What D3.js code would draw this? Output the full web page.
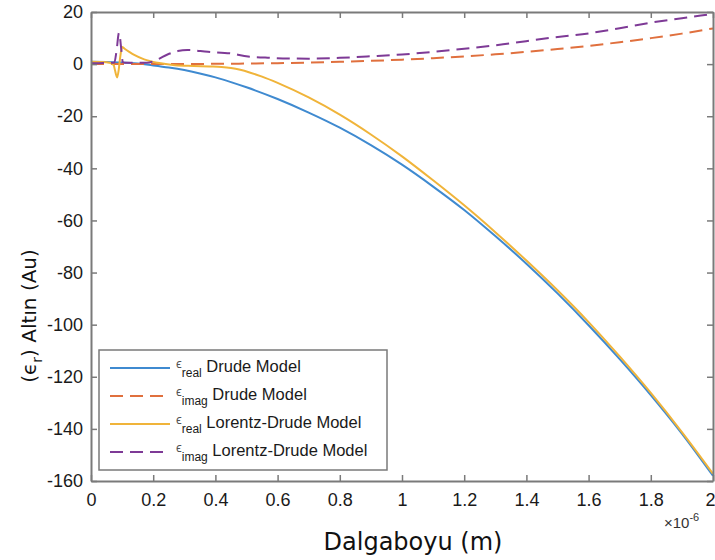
<!DOCTYPE html>
<html>
<head>
<meta charset="utf-8">
<script src="https://cdn.jsdelivr.net/npm/d3@7"></script>
<style>
  body { margin: 0; background: #fff; }
  svg { display: block; }
</style>
</head>
<body>
<div id="chart"></div>
<script>
// wavelength in micrometres (axis is x 10^-6 m)
const lamDrude = [0, 0.05, 0.1, 0.15, 0.2, 0.25, 0.3, 0.35, 0.4, 0.45, 0.5, 0.6, 0.7, 0.8, 0.9, 1.0,
  1.1, 1.2, 1.3, 1.4, 1.5, 1.6, 1.7, 1.8, 1.9, 2.0];
const realDrude = [0.9, 0.8, 0.6, 0.2, -0.5, -1.3, -2.3, -3.6, -5.1, -6.9, -8.9, -13.4, -18.6, -24.4, -31.1, -38.6,
  -47.0, -56.0, -66.0, -76.6, -88.0, -100.2, -113.2, -127.0, -141.8, -158.0];
const imagDrude = [0, 0, 0, 0, 0.01, 0.03, 0.05, 0.07, 0.11, 0.16, 0.21, 0.37, 0.59, 0.88, 1.25, 1.71,
  2.28, 2.96, 3.76, 4.7, 5.77, 7.0, 8.4, 9.97, 11.7, 13.7];

const lamLDreal = [0, 0.03, 0.06, 0.073, 0.077, 0.084, 0.089, 0.094, 0.1, 0.107, 0.123, 0.139, 0.171, 0.214,
  0.27, 0.33, 0.38, 0.42, 0.45, 0.48, 0.51, 0.55, 0.6, 0.7, 0.8, 0.9, 1.0, 1.1, 1.2, 1.3, 1.4, 1.5,
  1.6, 1.7, 1.8, 1.9, 2.0];
const realLD = [0.9, 0.8, 0.5, -0.4, -2.3, -5.1, -2.3, 2.8, 6.6, 6.0, 4.7, 3.5, 1.8, 0.5,
  -0.4, -0.7, -0.9, -1.1, -1.5, -2.2, -3.2, -4.8, -7.2, -12.8, -19.4, -27.0, -35.4, -44.6, -54.2, -64.5, -75.4, -86.8,
  -99.0, -112.2, -126.2, -141.2, -157.2];

const lamLDimag = [0, 0.04, 0.075, 0.082, 0.09, 0.098, 0.102, 0.11, 0.14, 0.18, 0.214, 0.246, 0.279, 0.31,
  0.376, 0.45, 0.505, 0.56, 0.617, 0.7, 0.8, 0.9, 1.0, 1.1, 1.2, 1.325, 1.466, 1.6, 1.7, 1.8, 1.9, 2.0];
const imagLD = [0.3, 0.4, 0.6, 5, 12, 5, 0.8, 0.5, 0.5, 0.5, 1.8, 3.7, 5.0, 5.4,
  4.7, 4.1, 2.9, 2.5, 2.2, 2.1, 2.4, 3.0, 3.7, 4.7, 5.9, 7.6, 9.9, 11.8, 13.8, 15.9, 17.6, 19.3];

const xTicks = [0, 0.2, 0.4, 0.6, 0.8, 1, 1.2, 1.4, 1.6, 1.8, 2];
const yTicks = [-160, -140, -120, -100, -80, -60, -40, -20, 0, 20];

const series = [
  { sub: 'real', label: 'Drude Model', x: lamDrude, y: realDrude, color: '#3f8ad0', dash: null },
  { sub: 'imag', label: 'Drude Model', x: lamDrude, y: imagDrude, color: '#e0703e', dash: '13,7' },
  { sub: 'real', label: 'Lorentz-Drude Model', x: lamLDreal, y: realLD, color: '#f0b43a', dash: null },
  { sub: 'imag', label: 'Lorentz-Drude Model', x: lamLDimag, y: imagLD, color: '#7e3a96', dash: '13,7' }
];

const W = 715, H = 560;
const plotLeft = 91, plotRight = 713, plotTop = 12, plotBottom = 481;
const tickFont = 'Liberation Sans, Arial, Helvetica, sans-serif';
const labelFont = 'DejaVu Sans, Verdana, sans-serif';

const svg = d3.select('#chart').append('svg')
  .attr('width', W)
  .attr('height', H);

const x = d3.scaleLinear().domain([0, 2]).range([plotLeft, plotRight]);
const y = d3.scaleLinear().domain([-160, 20]).range([plotBottom, plotTop]);

// curves first, axes box drawn over them
const line = d3.line()
  .x(d => x(d[0]))
  .y(d => y(d[1]))
  .curve(d3.curveMonotoneX);

const plot = svg.append('g');
series.forEach(s => {
  plot.append('path')
    .datum(s.x.map((v, i) => [v, s.y[i]]))
    .attr('d', line)
    .attr('fill', 'none')
    .attr('stroke', s.color)
    .attr('stroke-width', 2)
    .attr('stroke-dasharray', s.dash);
});

// axes with inward ticks, box on all sides
const axisColor = '#7a7a7a';
function styleAxis(g) {
  g.select('.domain').attr('stroke', axisColor).attr('stroke-width', 2);
  g.selectAll('.tick line').attr('stroke', axisColor).attr('stroke-width', 1.5);
  g.selectAll('.tick text')
    .attr('fill', '#1a1a1a')
    .style('font-family', tickFont)
    .style('font-size', '18px');
}

const xAxis = svg.append('g')
  .attr('transform', 'translate(0,' + plotBottom + ')')
  .call(d3.axisBottom(x).tickValues(xTicks).tickSize(-6).tickSizeOuter(0).tickPadding(12).tickFormat(d => String(d)))
  .call(styleAxis);
// last label sits on the page edge, keep it inside
xAxis.selectAll('.tick text').filter(d => d === 2).attr('text-anchor', 'end').attr('dx', 2);

svg.append('g')
  .attr('transform', 'translate(0,' + plotTop + ')')
  .call(d3.axisTop(x).tickValues(xTicks).tickSize(-6).tickSizeOuter(0).tickFormat(''))
  .call(styleAxis);

svg.append('g')
  .attr('transform', 'translate(' + plotLeft + ',0)')
  .call(d3.axisLeft(y).tickValues(yTicks).tickSize(-6).tickSizeOuter(0).tickPadding(8).tickFormat(d => String(d)))
  .call(styleAxis);

svg.append('g')
  .attr('transform', 'translate(' + plotRight + ',0)')
  .call(d3.axisRight(y).tickValues(yTicks).tickSize(-6).tickSizeOuter(0).tickFormat(''))
  .call(styleAxis);

// exponent label
const expo = svg.append('text')
  .attr('x', 664)
  .attr('y', 528)
  .attr('fill', '#333')
  .style('font-family', tickFont)
  .style('font-size', '15px');
expo.append('tspan').text('\u00d710');
expo.append('tspan').attr('dy', -7).style('font-size', '11px').text('-6');

// axis titles
svg.append('text')
  .attr('x', 413)
  .attr('y', 550)
  .attr('text-anchor', 'middle')
  .attr('fill', '#111')
  .style('font-family', labelFont)
  .style('font-size', '24px')
  .text('Dalgaboyu (m)');

const yTitle = svg.append('text')
  .attr('transform', 'translate(36,316) rotate(-90)')
  .attr('text-anchor', 'middle')
  .attr('fill', '#111')
  .style('font-family', labelFont)
  .style('font-size', '20px');
yTitle.append('tspan').text('(\u03f5');
yTitle.append('tspan').attr('dy', 6).style('font-size', '14px').text('r');
yTitle.append('tspan').attr('dy', -6).text(') Alt\u0131n (Au)');

// legend
const legend = svg.append('g');
legend.append('rect')
  .attr('x', 99)
  .attr('y', 350)
  .attr('width', 288)
  .attr('height', 120)
  .attr('fill', '#fff')
  .attr('stroke', axisColor)
  .attr('stroke-width', 1.5);

const rowY = d3.scalePoint().domain(d3.range(series.length)).range([368, 452]);
series.forEach((s, i) => {
  const ly = rowY(i);
  legend.append('line')
    .attr('x1', 110).attr('x2', 170)
    .attr('y1', ly).attr('y2', ly)
    .attr('stroke', s.color)
    .attr('stroke-width', 2)
    .attr('stroke-dasharray', s.dash);
  const t = legend.append('text')
    .attr('x', 176)
    .attr('y', ly)
    .attr('fill', '#1a1a1a')
    .style('font-family', tickFont);
  t.append('tspan').style('font-size', '13px').attr('fill', '#555').text('\u03f5');
  t.append('tspan').attr('dy', 9).style('font-size', '12px').text(s.sub);
  t.append('tspan').attr('dy', -5).style('font-size', '16.5px').text(' ' + s.label);
});
</script>
</body>
</html>
